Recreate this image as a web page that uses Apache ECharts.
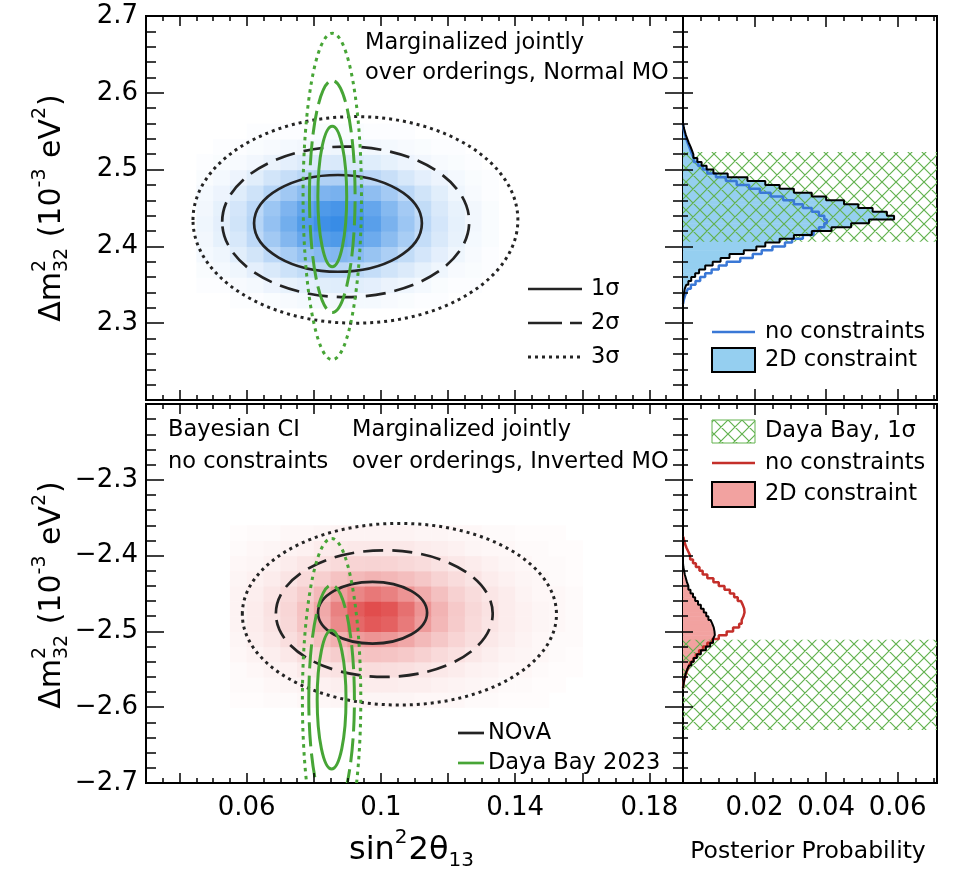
<!DOCTYPE html>
<html>
<head>
<meta charset="utf-8">
<script src="https://cdn.jsdelivr.net/npm/echarts@6/dist/echarts.min.js"></script>
<style>
html, body { margin: 0; padding: 0; background: #fff; }
#chart { width: 953px; height: 875px; }
</style>
</head>
<body>
<div id="chart"></div>
<script>
// ---------------- data ----------------
// sin^2(2 theta13) axis ticks
const sinMajorTicks = [0.04, 0.06, 0.08, 0.10, 0.12, 0.14, 0.16, 0.18];
const sinLabelTicks = [0.06, 0.10, 0.14, 0.18];
const probMajorTicks = [0.02, 0.04, 0.06];

// Credible contours: [centre sin^2 2th13, centre dm2_32, half width, half height], 1, 2, 3 sigma
const novaNormal = [
  [0.0872, 2.4300, 0.0250, 0.0630],
  [0.0895, 2.4320, 0.0368, 0.0980],
  [0.0924, 2.4345, 0.0484, 0.1345]
];
const novaInverted = [
  [0.0975, -2.4753, 0.01625, 0.0407],
  [0.1010, -2.4765, 0.0323, 0.0835],
  [0.1055, -2.4773, 0.0468, 0.1198]
];
const dayaBayNormal = [
  [0.0855, 2.465, 0.0043, 0.0915],
  [0.0855, 2.465, 0.0068, 0.1510],
  [0.0855, 2.465, 0.0087, 0.2125]
];
const dayaBayInverted = [
  [0.0853, -2.590, 0.0043, 0.0915],
  [0.0853, -2.590, 0.0068, 0.1510],
  [0.0853, -2.590, 0.0087, 0.2125]
];

// Daya Bay 1 sigma band on dm2_32
const dayaBayBandNormal = [2.406, 2.523];
const dayaBayBandInverted = [-2.630, -2.511];

// 2D posterior density (relative, %), rows from low to high dm2_32
const normalDensityX0 = 0.045, normalDensityY0 = 2.32;
const normalDensity = [
  [0,0,1,1,2,3,4,4,5,4,4,3,2,1,1,0,0,0],
  [1,1,3,4,7,9,11,12,13,12,11,8,6,4,2,1,1,0],
  [2,4,6,11,16,22,27,31,32,30,26,20,15,10,6,3,2,1],
  [4,6,12,19,30,40,50,57,59,56,48,38,27,18,11,6,3,1],
  [5,10,17,29,43,59,74,83,87,82,71,55,40,26,16,9,4,2],
  [6,11,20,33,50,68,85,96,100,95,82,64,46,30,18,10,5,2],
  [5,10,18,30,46,62,77,87,91,86,75,58,42,27,16,9,5,2],
  [4,7,13,21,33,44,55,62,65,62,53,42,30,20,12,6,3,1],
  [2,4,7,12,19,25,31,36,37,35,30,24,17,11,7,4,2,1],
  [1,2,3,5,8,11,14,15,16,15,13,10,7,5,3,2,1,0],
  [0,1,1,2,3,4,5,5,6,5,5,4,3,2,1,1,0,0],
  [0,0,0,1,1,1,1,2,2,2,1,1,1,0,0,0,0,0]
];
const invertedDensityX0 = 0.055, invertedDensityY0 = -2.60;
const invertedDensity = [
  [1,1,2,2,3,3,4,4,4,4,4,3,3,3,2,2,1,1,1,0,0],
  [2,2,3,4,5,6,7,8,8,8,7,7,6,5,4,3,2,2,1,1,0],
  [2,3,5,6,9,11,13,15,16,15,14,12,10,8,6,5,3,3,2,1,1],
  [3,5,7,10,15,19,24,29,30,29,26,22,17,14,10,7,5,4,3,2,1],
  [4,7,10,15,22,31,40,51,56,53,45,35,27,20,15,10,7,5,3,2,2],
  [5,8,12,18,29,41,61,82,91,86,71,52,36,25,17,12,8,6,4,3,2],
  [5,8,13,19,30,44,67,89,98,93,77,56,38,26,18,13,8,6,4,3,2],
  [5,7,11,17,24,35,50,64,72,67,56,42,31,22,16,11,8,5,3,3,2],
  [4,6,8,12,17,23,30,35,38,36,32,27,21,16,12,8,6,4,3,2,1],
  [3,4,6,8,11,14,17,20,21,20,18,16,13,10,8,6,4,3,2,2,1],
  [2,3,4,5,6,8,9,10,10,10,10,8,7,6,4,3,3,2,2,1,1],
  [1,2,2,3,3,4,5,5,5,5,5,4,4,3,3,2,2,1,1,1,0]
];

// 1D posterior probability per dm2_32 bin, bins from low to high dm2_32
const normalBinStart = 2.325;
const normalPost2D = [0,0.0001,0.0003,0.0005,0.0009,0.0015,0.0023,0.0034,0.0045,0.0062,0.0083,0.0105,0.013,0.017,0.0205,0.023,0.027,0.031,0.036,0.0415,0.047,0.052,0.059,0.057,0.053,0.049,0.045,0.040,0.036,0.031,0.027,0.023,0.018,0.0125,0.0085,0.0066,0.0052,0.0040,0.0029,0.0025,0.0021,0.0016,0.0012,0.0008,0.0005,0.0002,0];
const normalPostFree = [0.0002,0.0005,0.0009,0.0014,0.0022,0.0035,0.0048,0.0062,0.0080,0.0100,0.0122,0.016,0.0195,0.022,0.025,0.0285,0.0305,0.0335,0.0365,0.038,0.0395,0.0402,0.0395,0.038,0.036,0.0335,0.031,0.028,0.0245,0.0215,0.0185,0.015,0.012,0.0092,0.0068,0.0055,0.0042,0.0030,0.0025,0.0021,0.0017,0.0013,0.0009,0.0006,0.0003,0.0001,0];
const invertedBinStart = -2.575;
const invertedPost2D = [0.0001,0.0003,0.0005,0.0008,0.0012,0.0017,0.0023,0.0030,0.0039,0.0050,0.0064,0.0076,0.0084,0.0089,0.0088,0.0086,0.0082,0.0077,0.0071,0.0065,0.0058,0.0050,0.0042,0.0034,0.0028,0.0021,0.0015,0.0011,0.0008,0.0005,0.0003,0.0001,0,0,0,0,0,0,0,0];
const invertedPostFree = [0.0001,0.0003,0.0006,0.0009,0.0013,0.0017,0.0022,0.0029,0.0036,0.0045,0.0056,0.0068,0.0082,0.0100,0.0122,0.0140,0.0157,0.0164,0.0169,0.0172,0.0171,0.0167,0.0162,0.0153,0.0143,0.0131,0.0116,0.0100,0.0085,0.0068,0.0055,0.0046,0.0036,0.0028,0.0020,0.0015,0.0010,0.0006,0.0003,0.0001];

// ---------------- styling / helpers ----------------
const FONT = '"DejaVu Sans", "Liberation Sans", sans-serif';
const BLACK = '#242424';
const GREEN = '#47a536';
const HATCH_GREEN = '#62b24f';
const BLUE_LINE = '#3a78d6';
const BLUE_FILL = '#95cff0';
const RED_LINE = '#c42f2a';
const RED_FILL = '#f2a2a0';
const BLUE_PEAK = [56, 140, 230];
const RED_PEAK = [224, 74, 74];
const SIN_BIN = 0.005, DM_BIN = 0.02, POST_BIN = 0.005;
const tickStyle = { color: '#000', width: 1.5 };
const NOTE_SIZE = 22.5, KEY_SIZE = 22.5;

function shade(rgb, v) {
  const t = Math.pow(Math.min(v, 100) / 100, 0.9);
  return 'rgb(' + rgb.map(c => Math.round(255 + (c - 255) * t)).join(',') + ')';
}

function hatchTile(color, size) {
  const c = document.createElement('canvas');
  c.width = size; c.height = size;
  const g = c.getContext('2d');
  g.strokeStyle = color; g.lineWidth = 1.2;
  g.beginPath();
  for (const k of [-size, 0, size]) {
    g.moveTo(k, 0); g.lineTo(k + size, size);
    g.moveTo(k + size, 0); g.lineTo(k, size);
  }
  g.stroke();
  return c;
}
const hatchPattern = { image: hatchTile(HATCH_GREEN, 14), repeat: 'repeat' };

const measureCtx = document.createElement('canvas').getContext('2d');
function measure(t, size) {
  measureCtx.font = size + 'px ' + FONT;
  return measureCtx.measureText(t).width;
}
function txt(t, x, y, size, align) {
  return { type: 'text', x: x, y: y, z: 20,
    style: { text: t, font: size + 'px ' + FONT, fill: '#000', align: align || 'left', verticalAlign: 'middle' } };
}
// Text with stacked super/subscripts, centred on the group origin
function mathText(pieces, size) {
  const small = Math.round(size * 0.62);
  const kids = [];
  let x = 0;
  pieces.forEach(p => {
    if (typeof p === 'string') { kids.push(txt(p, x, 0, size)); x += measure(p, size); }
    else {
      let w = 0;
      if (p.sup) { kids.push(txt(p.sup, x, -size * 0.40, small)); w = Math.max(w, measure(p.sup, small)); }
      if (p.sub) { kids.push(txt(p.sub, x, size * 0.32, small)); w = Math.max(w, measure(p.sub, small)); }
      x += w + 1;
    }
  });
  kids.forEach(k => { k.x -= x / 2; });
  return kids;
}

// ---------------- axes ----------------
const grids = [
  { left: 146, top: 16, width: 537, height: 384 },
  { left: 683, top: 16, width: 254, height: 384 },
  { left: 146, top: 404, width: 537, height: 379 },
  { left: 683, top: 404, width: 254, height: 379 }
].map(g => Object.assign(g, { show: true, borderColor: '#000', borderWidth: 2, backgroundColor: 'transparent', containLabel: false }));

function xAxesFor(grid, min, max, majors, labels, showLabels, majorLen, minorLen) {
  const common = { gridIndex: grid, type: 'value', min: min, max: max, z: 5,
    axisLine: { show: false }, splitLine: { show: false } };
  const out = [];
  ['bottom', 'top'].forEach(pos => {
    out.push(Object.assign({}, common, { position: pos, interval: 0.005,
      axisTick: { show: true, inside: true, length: minorLen, lineStyle: tickStyle },
      axisLabel: { show: false } }));
    out.push(Object.assign({}, common, { position: pos,
      axisTick: { show: true, inside: true, length: majorLen, customValues: majors, lineStyle: tickStyle },
      axisLabel: (pos === 'bottom' && showLabels) ? {
        show: true, customValues: labels, margin: 12, color: '#000', fontSize: 26, fontFamily: FONT,
        formatter: v => String(Math.round(v * 100) / 100)
      } : { show: false } }));
  });
  return out;
}
function yAxesFor(grid, min, max, majorLen, minorLen, showLabels) {
  return ['left', 'right'].map(pos => ({
    gridIndex: grid, type: 'value', min: min, max: max, interval: 0.1, position: pos, z: 5,
    axisLine: { show: false }, splitLine: { show: false },
    axisTick: { show: true, inside: true, length: majorLen, lineStyle: tickStyle },
    minorTick: { show: true, splitNumber: 5, length: minorLen, lineStyle: tickStyle },
    axisLabel: (pos === 'left' && showLabels) ? {
      show: true, margin: 8, color: '#000', fontSize: 26, fontFamily: FONT,
      showMinLabel: min > 0 ? false : true, showMaxLabel: max < 0 ? false : true,
      formatter: v => v.toFixed(1).replace('-', '\u2212')
    } : { show: false }
  }));
}

const xAxis = [].concat(
  xAxesFor(0, 0.03, 0.19, sinMajorTicks, sinLabelTicks, false, 10, 5),
  xAxesFor(1, 0, 0.071, probMajorTicks, probMajorTicks, false, 11, 5),
  xAxesFor(2, 0.03, 0.19, sinMajorTicks, sinLabelTicks, true, 10, 5),
  xAxesFor(3, 0, 0.071, probMajorTicks, probMajorTicks, true, 11, 5)
);
const yAxis = [].concat(
  yAxesFor(0, 2.2, 2.7, 18, 10, true),
  yAxesFor(1, 2.2, 2.7, 10, 5, false),
  yAxesFor(2, -2.7, -2.2, 18, 10, true),
  yAxesFor(3, -2.7, -2.2, 10, 5, false)
);
const AX = [ [0, 0], [4, 2], [8, 4], [12, 6] ];

// ---------------- series ----------------
function densitySeries(name, rows, x0, y0, rgb, panel) {
  const data = [];
  rows.forEach((row, r) => row.forEach((v, c) => { if (v > 0) data.push([x0 + c * SIN_BIN, y0 + r * DM_BIN, v]); }));
  return { type: 'custom', name: name, xAxisIndex: AX[panel][0], yAxisIndex: AX[panel][1], z: 1, silent: true, clip: true,
    data: data, encode: { x: 0, y: 1 },
    renderItem(params, api) {
      const a = api.coord([api.value(0), api.value(1) + DM_BIN]);
      const b = api.coord([api.value(0) + SIN_BIN, api.value(1)]);
      return { type: 'rect', shape: { x: a[0], y: a[1], width: b[0] - a[0] + 0.6, height: b[1] - a[1] + 0.6 },
        style: { fill: shade(rgb, api.value(2)) } };
    } };
}

function contourSeries(name, ellipses, color, widths, dashes, panel) {
  return { type: 'custom', name: name, xAxisIndex: AX[panel][0], yAxisIndex: AX[panel][1], z: 3, silent: true, clip: true,
    data: ellipses.map((e, i) => e.concat([i])), encode: { x: 0, y: 1 },
    renderItem(params, api) {
      const c = api.coord([api.value(0), api.value(1)]);
      const s = api.size([api.value(2), api.value(3)]);
      const lvl = api.value(4);
      return { type: 'ellipse', shape: { cx: c[0], cy: c[1], rx: s[0], ry: s[1] },
        style: { fill: 'none', stroke: color, lineWidth: widths[lvl], lineDash: dashes[lvl] } };
    } };
}

function histFill(name, start, values, color, panel) {
  return { type: 'custom', name: name, xAxisIndex: AX[panel][0], yAxisIndex: AX[panel][1], z: 1, silent: true, clip: true,
    data: values.map((v, i) => [start + i * POST_BIN, v]), encode: { x: 1, y: 0 },
    renderItem(params, api) {
      if (!(api.value(1) > 0)) return null;
      const a = api.coord([0, api.value(0) + POST_BIN]);
      const b = api.coord([api.value(1), api.value(0)]);
      return { type: 'rect', shape: { x: a[0], y: a[1], width: b[0] - a[0], height: b[1] - a[1] + 0.5 },
        style: { fill: color } };
    } };
}

function histLine(name, start, values, color, width, panel) {
  const pts = [[0, start]];
  values.forEach((v, i) => { pts.push([v, start + i * POST_BIN]); pts.push([v, start + (i + 1) * POST_BIN]); });
  pts.push([0, start + values.length * POST_BIN]);
  return { type: 'line', name: name, xAxisIndex: AX[panel][0], yAxisIndex: AX[panel][1], z: 4, silent: true,
    data: pts, symbol: 'none', showSymbol: false, clip: true,
    lineStyle: { color: color, width: width } };
}

function bandSeries(name, band, panel) {
  return { type: 'custom', name: name, xAxisIndex: AX[panel][0], yAxisIndex: AX[panel][1], z: 2, silent: true, clip: true,
    data: [band], encode: { y: [0, 1] },
    renderItem(params, api) {
      const cs = params.coordSys;
      const top = api.coord([0, api.value(1)])[1];
      const bot = api.coord([0, api.value(0)])[1];
      return { type: 'rect', shape: { x: cs.x, y: top, width: cs.width, height: bot - top },
        style: { fill: hatchPattern } };
    } };
}

const blackDash = [null, [20, 9], [3, 4]];
const blackWidth = [2.7, 2.7, 3];
const greenDash = [null, [24, 7], [3.5, 4.5]];
const greenWidth = [3, 3, 3];

const series = [
  densitySeries('NOvA NO density', normalDensity, normalDensityX0, normalDensityY0, BLUE_PEAK, 0),
  contourSeries('NOvA', novaNormal, BLACK, blackWidth, blackDash, 0),
  contourSeries('Daya Bay 2023', dayaBayNormal, GREEN, greenWidth, greenDash, 0),
  densitySeries('NOvA IO density', invertedDensity, invertedDensityX0, invertedDensityY0, RED_PEAK, 2),
  contourSeries('NOvA', novaInverted, BLACK, blackWidth, blackDash, 2),
  contourSeries('Daya Bay 2023', dayaBayInverted, GREEN, greenWidth, greenDash, 2),

  histFill('2D constraint', normalBinStart, normalPost2D, BLUE_FILL, 1),
  bandSeries('Daya Bay, 1\u03c3', dayaBayBandNormal, 1),
  histLine('no constraints', normalBinStart, normalPostFree, BLUE_LINE, 2.5, 1),
  histLine('2D constraint', normalBinStart, normalPost2D, '#000', 2, 1),

  histFill('2D constraint', invertedBinStart, invertedPost2D, RED_FILL, 3),
  bandSeries('Daya Bay, 1\u03c3', dayaBayBandInverted, 3),
  histLine('no constraints', invertedBinStart, invertedPostFree, RED_LINE, 2.5, 3),
  histLine('2D constraint', invertedBinStart, invertedPost2D, '#000', 2, 3)
];

// ---------------- annotations, legends, axis titles ----------------
function keyLine(x1, x2, y, color, width, dash) {
  return { type: 'line', z: 20, shape: { x1: x1, y1: y, x2: x2, y2: y },
    style: { stroke: color, lineWidth: width, lineDash: dash || null } };
}
function keyBox(x, y, w, h, fill, stroke, lw) {
  return { type: 'rect', z: 20, shape: { x: x, y: y, width: w, height: h },
    style: { fill: fill, stroke: stroke, lineWidth: lw } };
}

const graphic = [
  // panel notes
  txt('Marginalized jointly', 365, 43, NOTE_SIZE),
  txt('over orderings, Normal MO', 365, 73, NOTE_SIZE),
  txt('Bayesian CI', 168, 430, NOTE_SIZE),
  txt('no constraints', 168, 462, NOTE_SIZE),
  txt('Marginalized jointly', 352, 430, NOTE_SIZE),
  txt('over orderings, Inverted MO', 352, 462, NOTE_SIZE),

  // contour level key
  keyLine(528, 582, 289, BLACK, 2.7), txt('1\u03c3', 591, 289, KEY_SIZE),
  keyLine(528, 582, 323, BLACK, 2.7, [34, 8]), txt('2\u03c3', 591, 323, KEY_SIZE),
  keyLine(528, 582, 357, BLACK, 3, [3, 4]), txt('3\u03c3', 591, 357, KEY_SIZE),

  // experiment key
  keyLine(458, 484, 733, BLACK, 2.7), txt('NOvA', 488, 733, KEY_SIZE),
  keyLine(458, 484, 763, GREEN, 2.7), txt('Daya Bay 2023', 488, 763, KEY_SIZE),

  // normal ordering 1D key
  keyLine(712, 755, 332, BLUE_LINE, 2.5), txt('no constraints', 765, 332, KEY_SIZE),
  keyBox(712, 348, 43, 24, BLUE_FILL, '#000', 2), txt('2D constraint', 765, 360, KEY_SIZE),

  // inverted ordering 1D key
  keyBox(712, 420, 43, 23, hatchPattern, HATCH_GREEN, 1), txt('Daya Bay, 1\u03c3', 765, 431, KEY_SIZE),
  keyLine(712, 755, 463, RED_LINE, 2.5), txt('no constraints', 765, 463, KEY_SIZE),
  keyBox(712, 482, 43, 25, RED_FILL, '#000', 2), txt('2D constraint', 765, 494, KEY_SIZE),

  // axis titles
  { type: 'group', x: 52, y: 208, rotation: Math.PI / 2,
    children: mathText(['\u0394m', { sup: '2', sub: '32' }, ' (10', { sup: '-3' }, ' eV', { sup: '2' }, ')'], 30) },
  { type: 'group', x: 52, y: 595, rotation: Math.PI / 2,
    children: mathText(['\u0394m', { sup: '2', sub: '32' }, ' (10', { sup: '-3' }, ' eV', { sup: '2' }, ')'], 30) },
  { type: 'group', x: 412, y: 851,
    children: mathText(['sin', { sup: '2' }, '2\u03b8', { sub: '13' }], 32) },
  txt('Posterior Probability', 808, 852, 23.5, 'center')
];

const chart = echarts.init(document.getElementById('chart'), null, { renderer: 'canvas', width: 953, height: 875 });
chart.setOption({
  animation: false,
  backgroundColor: '#fff',
  grid: grids,
  xAxis: xAxis,
  yAxis: yAxis,
  series: series,
  graphic: graphic
});
</script>
</body>
</html>
